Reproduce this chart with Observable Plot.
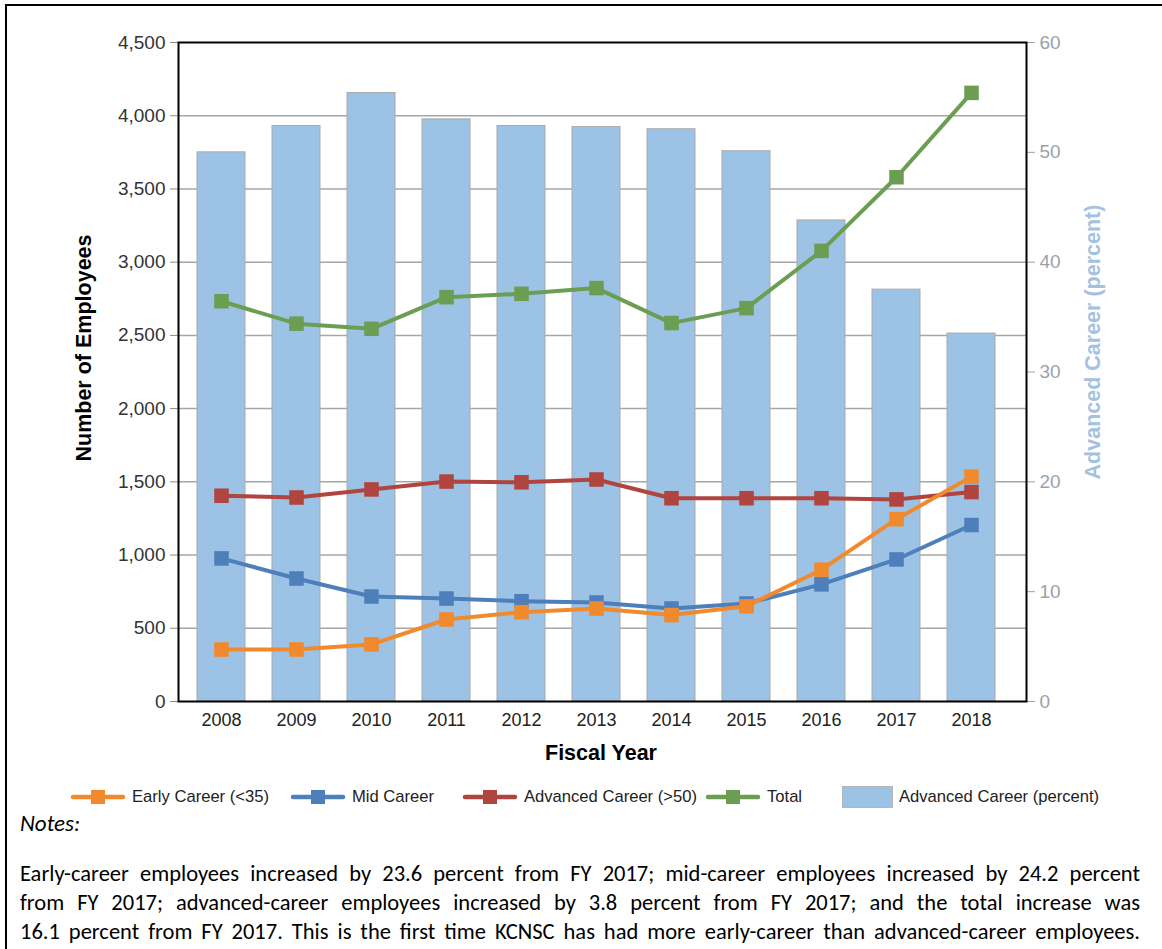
<!DOCTYPE html>
<html>
<head>
<meta charset="utf-8">
<script src="https://cdn.jsdelivr.net/npm/d3@7"></script>
<script src="https://cdn.jsdelivr.net/npm/@observablehq/plot@0.6"></script>
<style>
  html, body { margin: 0; padding: 0; background: #fff; overflow: hidden; }
  body { width: 1162px; height: 949px; position: relative; font-family: "Liberation Sans", Arial, sans-serif; }
  #border { position: absolute; left: 5px; top: 4px; width: 1200px; height: 1000px; border: 2px solid #000; box-sizing: border-box; }
  #chart { position: absolute; left: 0; top: 0; }
  .title { position: absolute; font-weight: bold; font-size: 21.5px; white-space: nowrap; }
  #ytitle { left: 84px; top: 348px; transform: translate(-50%, -50%) rotate(-90deg); color: #000; }
  #y2title { left: 1093px; top: 342px; transform: translate(-50%, -50%) rotate(-90deg); color: #a4c2e0; }
  #xtitle { left: 601px; top: 753px; transform: translate(-50%, -50%); color: #000; }
  #legend { position: absolute; left: 0; top: 786px; height: 22px; width: 1162px; font-size: 16.6px; color: #222; }
  .item { position: absolute; top: 0; height: 22px; display: flex; align-items: center; white-space: nowrap; }
  .item svg { display: block; margin-right: 6px; }
  #notes-label { position: absolute; left: 20px; top: 809px; font-family: Carlito, "Liberation Sans Narrow", "Open Sans", sans-serif; font-style: italic; font-size: 23px; }
  #notes { position: absolute; left: 20px; top: 859px; width: 1120px; font-family: Carlito, "Liberation Sans Narrow", "Open Sans", sans-serif; font-size: 22.5px; color: #000; }
  #notes div { text-align: justify; text-align-last: justify; height: 29px; line-height: 29px; white-space: normal; }
</style>
</head>
<body>
<div id="border"></div>
<div id="chart"></div>
<div class="title" id="ytitle">Number of Employees</div>
<div class="title" id="y2title">Advanced Career (percent)</div>
<div class="title" id="xtitle">Fiscal Year</div>
<div id="legend"></div>
<div id="notes-label">Notes:</div>
<div id="notes"></div>
<script>
// ---- data ----
const years = [2008, 2009, 2010, 2011, 2012, 2013, 2014, 2015, 2016, 2017, 2018];
const earlyCareer    = [355, 355, 390, 560, 610, 635, 590, 650, 900, 1245, 1535];
const midCareer      = [977, 840, 717, 703, 685, 676, 635, 669, 800, 970, 1205];
const advancedCareer = [1405, 1393, 1448, 1502, 1497, 1516, 1388, 1388, 1388, 1380, 1430];
const totalEmployees = [2733, 2580, 2545, 2761, 2784, 2823, 2584, 2686, 3077, 3580, 4156];
const advancedPct    = [50.0, 52.4, 55.4, 53.0, 52.4, 52.3, 52.1, 50.1, 43.8, 37.5, 33.5];
const leftTicks  = [0, 500, 1000, 1500, 2000, 2500, 3000, 3500, 4000, 4500];
const rightTicks = [0, 10, 20, 30, 40, 50, 60];
const seriesNames = ["Early Career (<35)", "Mid Career", "Advanced Career (>50)", "Total"];
const barName = "Advanced Career (percent)";
const noteLines = [
  "Early-career employees increased by 23.6 percent from FY 2017; mid-career employees increased by 24.2 percent",
  "from FY 2017; advanced-career employees increased by 3.8 percent from FY 2017; and the total increase was",
  "16.1 percent from FY 2017.  This is the first time KCNSC has had more early-career than advanced-career employees."
];

// ---- styles ----
const colors = {
  "Early Career (<35)": "#F08A2C",
  "Mid Career": "#4D7FBA",
  "Advanced Career (>50)": "#B0443F",
  "Total": "#6B9E52"
};
const barFill = "#9CC3E5";
const leftMax = 4500, rightMax = 60;
const k = leftMax / rightMax; // right axis → left axis units

const seriesValues = {
  "Early Career (<35)": earlyCareer,
  "Mid Career": midCareer,
  "Advanced Career (>50)": advancedCareer,
  "Total": totalEmployees
};
const barData = years.map((y, i) => ({year: y, pct: advancedPct[i]}));
const drawOrder = ["Total", "Advanced Career (>50)", "Mid Career", "Early Career (<35)"];

const lineMarks = drawOrder.flatMap(name => {
  const rows = years.map((y, i) => ({year: y, value: seriesValues[name][i]}));
  return [
    Plot.line(rows, {x: "year", y: "value", stroke: colors[name], strokeWidth: 4, strokeLinejoin: "round"}),
    Plot.dot(rows, {x: "year", y: "value", symbol: "square", r: 8.2, fill: colors[name], stroke: null})
  ];
});

const chart = Plot.plot({
  width: 1162,
  height: 760,
  marginLeft: 178,
  marginRight: 136,
  marginTop: 42,
  marginBottom: 59,
  style: {fontFamily: '"Liberation Sans", Arial, sans-serif', background: "transparent", overflow: "visible"},
  x: {type: "band", domain: years, paddingInner: 0.354, paddingOuter: 0.205, insetRight: 12.5},
  y: {domain: [0, leftMax]},
  marks: [
    Plot.ruleY(leftTicks.filter(t => t > 0 && t < leftMax), {stroke: "#a6a6a6", strokeWidth: 1.5}),
    Plot.barY(barData, {x: "year", y: d => d.pct * k, fill: barFill, stroke: "#a9a9a9", strokeWidth: 1}),
    Plot.axisY({anchor: "left", ticks: leftTicks, tickFormat: d3.format(","), tickSize: 8, tickPadding: 5,
      stroke: "#8c8c8c", fill: "#333", fontSize: 19, label: null}),
    Plot.axisY({anchor: "right", ticks: rightTicks.map(t => t * k), tickFormat: d => String(Math.round(d / k)),
      tickSize: 8, tickPadding: 5, stroke: "#9aa2ab", fill: "#9aa2ab", fontSize: 19, label: null}),
    Plot.axisX({tickSize: 0, tickPadding: 12, tickFormat: d => String(d), fill: "#222", fontSize: 18, label: null}),
    Plot.frame({stroke: "#000", strokeWidth: 2}),
    ...lineMarks
  ]
});
document.getElementById("chart").appendChild(chart);

// ---- legend ----
const legend = document.getElementById("legend");
const itemX = [70, 290, 462, 705];
seriesNames.forEach((name, i) => {
  const div = document.createElement("div");
  div.className = "item";
  div.style.left = itemX[i] + "px";
  const c = colors[name];
  div.innerHTML = `<svg width="56" height="22"><line x1="3" y1="11" x2="53" y2="11" stroke="${c}" stroke-width="4.5" stroke-linecap="round"/><rect x="21" y="4" width="14" height="14" fill="${c}"/></svg><span>${name.replace("<", "&lt;").replace(">", "&gt;")}</span>`;
  legend.appendChild(div);
});
const barItem = document.createElement("div");
barItem.className = "item";
barItem.style.left = "842px";
barItem.innerHTML = `<svg width="52" height="22" style="margin-right:5px"><rect x="0.5" y="0.5" width="50" height="21" fill="${barFill}" stroke="#b5b5b5"/></svg><span>${barName}</span>`;
legend.appendChild(barItem);

// ---- notes ----
const notes = document.getElementById("notes");
noteLines.forEach(t => {
  const d = document.createElement("div");
  d.textContent = t;
  notes.appendChild(d);
});
</script>
</body>
</html>
